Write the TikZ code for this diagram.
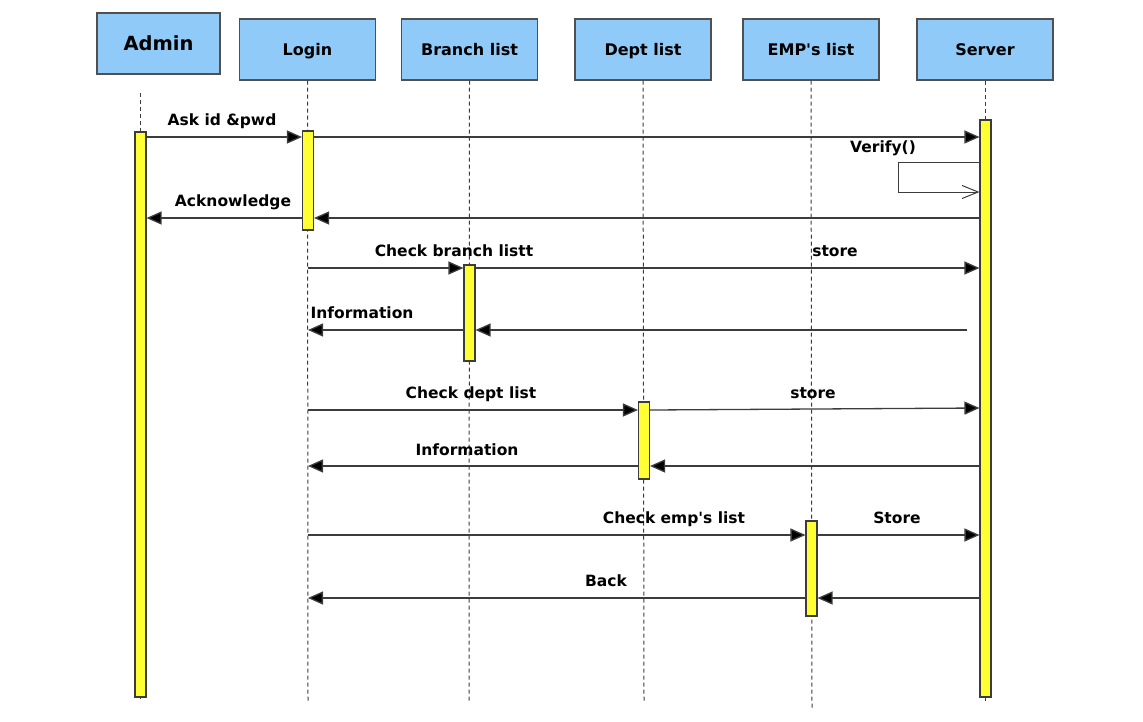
\documentclass[tikz,border=0pt]{standalone}
\usepackage{fontspec}
\setmainfont{DejaVu Sans}
\usetikzlibrary{arrows.meta}
\definecolor{hdrblue}{RGB}{144,202,249}
\definecolor{actyellow}{RGB}{255,255,51}
\definecolor{linegray}{RGB}{60,60,60}
\definecolor{boxgray}{RGB}{80,80,80}
\tikzset{
  hdr/.style={draw=boxgray, line width=1.1pt, fill=hdrblue, minimum width=136pt, minimum height=61pt, inner sep=0pt, text height=11.6pt, text depth=0pt, font=\fontsize{16}{18}\selectfont\bfseries},
  act/.style={draw=linegray, line width=1.1pt, fill=actyellow, minimum width=11pt, inner sep=0pt},
  life/.style={draw=linegray, line width=1pt, dash pattern=on 4pt off 3pt},
  msg/.style={draw=linegray, line width=1.3pt, -{Triangle[length=15pt,width=13pt,fill=black]}},
  selfmsg/.style={draw=linegray, line width=1pt, -{Straight Barb[length=16pt,width=13pt,line width=1pt]}},
  lbl/.style={font=\fontsize{15.5}{17}\selectfont\bfseries, inner sep=0pt}
}
\begin{document}
\begin{tikzpicture}[x=1pt,y=-1pt]
\useasboundingbox (0,0) rectangle (1143,721);
% headers
\node[hdr, minimum width=123pt, text height=14.2pt, font=\fontsize{19.5}{21}\selectfont\bfseries] (admin) at (158.5,43.5) {Admin};
\node[hdr] (login) at (307.5,49.5) {Login};
\node[hdr] (branch) at (469.5,49.5) {Branch list};
\node[hdr] (dept) at (643,49.5) {Dept list};
\node[hdr] (emp) at (811,49.5) {EMP\textquotesingle s list};
\node[hdr] (server) at (985,49.5) {Server};
% lifelines
\coordinate (adminTop) at (140,93);
\coordinate (adminEnd) at (140,702);
\coordinate (loginEnd) at (308,702);
\coordinate (branchEnd) at (469,702);
\coordinate (deptEnd) at (644,702);
\coordinate (empEnd) at (812,708);
\coordinate (serverEnd) at (985,702);
\draw[life] (adminTop) -- (adminEnd);
\draw[life] (login.south) -- (loginEnd);
\draw[life] (branch.south) -- (branchEnd);
\draw[life] (dept.south) -- (deptEnd);
\draw[life] (emp.south) -- (empEnd);
\draw[life] (server.south) -- (serverEnd);
% activations
\node[act, minimum height=565pt] (aAdmin) at (140.5,414.5) {};
\node[act, minimum height=99pt] (aLogin) at (308,180.5) {};
\node[act, minimum height=577pt] (aServer) at (985.5,408.5) {};
\node[act, minimum height=96pt] (aBranch) at (469.5,313) {};
\node[act, minimum height=77pt] (aDept) at (644,440.5) {};
\node[act, minimum height=95pt] (aEmp) at (811.5,568.5) {};
% message coordinates
\coordinate (m1a) at (aAdmin.east |- 0,137);
\coordinate (m1b) at (aLogin.west |- 0,137);
\coordinate (m1c) at (aLogin.east |- 0,137);
\coordinate (m1d) at (aServer.west |- 0,137);
\draw[msg] (m1a) -- (m1b);
\draw[msg] (m1c) -- (m1d);
\node[lbl] (t1) at (222,121) {Ask id \&pwd};
% verify self
\coordinate (v1) at (aServer.west |- 0,162);
\coordinate (v2) at (898,162);
\coordinate (v3) at (898,192);
\coordinate (v4) at (aServer.west |- 0,192);
\draw[selfmsg] (v1) -- (v2) -- (v3) -- (v4);
\node[lbl] (tv) at (883,148) {Verify()};
% acknowledge
\coordinate (m2a) at (aServer.west |- 0,218);
\coordinate (m2b) at (aLogin.east |- 0,218);
\coordinate (m2c) at (aLogin.west |- 0,218);
\coordinate (m2d) at (aAdmin.east |- 0,218);
\draw[msg] (m2a) -- (m2b);
\draw[msg] (m2c) -- (m2d);
\node[lbl] (t2) at (233,202) {Acknowledge};
% check branch
\coordinate (m3a) at (308,268);
\coordinate (m3b) at (aBranch.west |- 0,268);
\coordinate (m3c) at (aBranch.east |- 0,268);
\coordinate (m3d) at (aServer.west |- 0,268);
\draw[msg] (m3a) -- (m3b);
\draw[msg] (m3c) -- (m3d);
\node[lbl] (t3) at (454,251) {Check branch listt};
\node[lbl] (t4) at (835,251) {store};
% information 1
\coordinate (m4a) at (967,330);
\coordinate (m4b) at (aBranch.east |- 0,330);
\coordinate (m4c) at (aBranch.west |- 0,330);
\coordinate (m4d) at (308,330);
\draw[msg] (m4a) -- (m4b);
\draw[msg] (m4c) -- (m4d);
\node[lbl] (t5) at (362,313) {Information};
% check dept
\coordinate (m5a) at (308,410);
\coordinate (m5b) at (aDept.west |- 0,410);
\coordinate (m5c) at (aDept.east |- 0,410);
\coordinate (m5d) at (aServer.west |- 0,408);
\draw[msg] (m5a) -- (m5b);
\draw[msg] (m5c) -- (m5d);
\node[lbl] (t6) at (471,394) {Check dept list};
\node[lbl] (t7) at (813,393) {store};
% information 2
\coordinate (m6a) at (aServer.west |- 0,466);
\coordinate (m6b) at (aDept.east |- 0,466);
\coordinate (m6c) at (aDept.west |- 0,466);
\coordinate (m6d) at (308,466);
\draw[msg] (m6a) -- (m6b);
\draw[msg] (m6c) -- (m6d);
\node[lbl] (t8) at (467,450) {Information};
% check emp
\coordinate (m7a) at (308,535);
\coordinate (m7b) at (aEmp.west |- 0,535);
\coordinate (m7c) at (aEmp.east |- 0,535);
\coordinate (m7d) at (aServer.west |- 0,535);
\draw[msg] (m7a) -- (m7b);
\draw[msg] (m7c) -- (m7d);
\node[lbl] (t9) at (674,519) {Check emp\textquotesingle s list};
\node[lbl] (t10) at (897,518) {Store};
% back
\coordinate (m8a) at (aServer.west |- 0,598);
\coordinate (m8b) at (aEmp.east |- 0,598);
\coordinate (m8c) at (aEmp.west |- 0,598);
\coordinate (m8d) at (308,598);
\draw[msg] (m8a) -- (m8b);
\draw[msg] (m8c) -- (m8d);
\node[lbl] (t11) at (606,581) {Back};
\end{tikzpicture}
\end{document}
